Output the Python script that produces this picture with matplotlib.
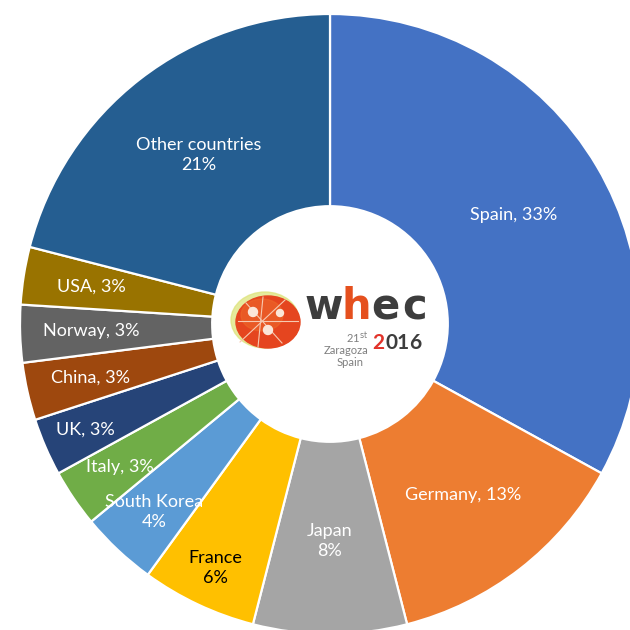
import matplotlib
matplotlib.use("Agg")
import matplotlib.pyplot as plt
from matplotlib.patches import Ellipse
import numpy as np

# ---- data ----
countries = ["Spain", "Germany", "Japan", "France", "South Korea", "Italy",
             "UK", "China", "Norway", "USA", "Other countries"]
shares = [33, 13, 8, 6, 4, 3, 3, 3, 3, 3, 21]

# ---- style / layout ----
colors = ["#4472C4", "#ED7D31", "#A5A5A5", "#FFC000", "#5B9BD5", "#70AD47",
          "#264478", "#9E480E", "#636363", "#997300", "#255E91"]
label_sep = [", ", ", ", "\n", "\n", "\n", ", ", ", ", ", ", ", ", ", ", "\n"]
label_dist = [0.69, 0.70, 0.70, 0.87, 0.83, 0.82, 0.86, 0.79, 0.77, 0.78, 0.69]
label_color = ["white"] * 11
label_color[3] = "black"

W = H = 630
CX, CY, R = 330, 324, 310  # pixel centre & radius


def px(x, y):
    return (x - CX) / R, (CY - y) / R


fig = plt.figure(figsize=(6.3, 6.3), dpi=100)
ax = fig.add_axes([0, 0, 1, 1])

wedges, _ = ax.pie(shares, colors=colors, startangle=90, counterclock=False,
                   radius=1, center=(0, 0), frame=True,
                   wedgeprops=dict(width=0.62, edgecolor="white", linewidth=1.6))
ax.set_xlim(-CX / R, (W - CX) / R)
ax.set_ylim(-(H - CY) / R, CY / R)
ax.set_aspect("equal")
ax.axis("off")

for w, name, val, sep, d, c in zip(wedges, countries, shares, label_sep,
                                   label_dist, label_color):
    ang = np.deg2rad((w.theta1 + w.theta2) / 2)
    ax.text(d * np.cos(ang), d * np.sin(ang), f"{name}{sep}{val}%",
            ha="center", va="center", color=c, fontsize=13, family="Lato",
            linespacing=1.3)

# ---- centre logo ----
gx, gy = px(265, 320)
ax.add_patch(Ellipse((gx, gy), 68 / R, 56 / R, color="#DDE37C", zorder=3, alpha=0.75))
bx, by = px(268, 322)
ax.add_patch(Ellipse((bx, by), 64 / R, 52 / R, color="#E5451F", zorder=4))
hx, hy = px(262, 315)
ax.add_patch(Ellipse((hx, hy), 42 / R, 32 / R, color="#EE6A2A", zorder=4, alpha=0.55))
for (x1, y1, x2, y2) in [(238, 321, 298, 321), (263, 297, 258, 347),
                         (246, 303, 282, 343), (285, 300, 240, 342)]:
    a, b = px(x1, y1)
    c_, d_ = px(x2, y2)
    ax.plot([a, c_], [b, d_], color="#F7C9B0", lw=0.8, zorder=5)
for (x, y, s) in [(253, 312, 9), (280, 313, 7), (268, 330, 9)]:
    a, b = px(x, y)
    ax.add_patch(Ellipse((a, b), s / R, s / R, color="#FBE6D8", zorder=6))

# whec letters
for ch, xc, col in [("w", 324, "#3D3D3D"), ("h", 356, "#E5501E"),
                    ("e", 385, "#3D3D3D"), ("c", 415, "#3D3D3D")]:
    a, b = px(xc, 319)
    ax.text(a, b, ch, ha="center", va="baseline", fontsize=30,
            family="DejaVu Sans", weight="bold", color=col, zorder=7)

# 2016
for ch, xc, col in [("2", 378, "#E2332A"), ("0", 391, "#3D3D3D"),
                    ("1", 403, "#3D3D3D"), ("6", 415, "#3D3D3D")]:
    a, b = px(xc, 349)
    ax.text(a, b, ch, ha="center", va="baseline", fontsize=15,
            family="Lato", weight="bold", color=col, zorder=7)

a, b = px(368, 338)
ax.text(a, b, r"21$^{\rm st}$", ha="right", va="center", fontsize=8,
        family="Lato", color="#7F7F7F", zorder=7)
a, b = px(368, 350)
ax.text(a, b, "Zaragoza", ha="right", va="center", fontsize=8,
        family="Lato", color="#7F7F7F", zorder=7)
a, b = px(364, 363)
ax.text(a, b, "Spain", ha="right", va="center", fontsize=8,
        family="Lato", color="#7F7F7F", zorder=7)

fig.savefig("out.png", dpi=100, facecolor="white")
